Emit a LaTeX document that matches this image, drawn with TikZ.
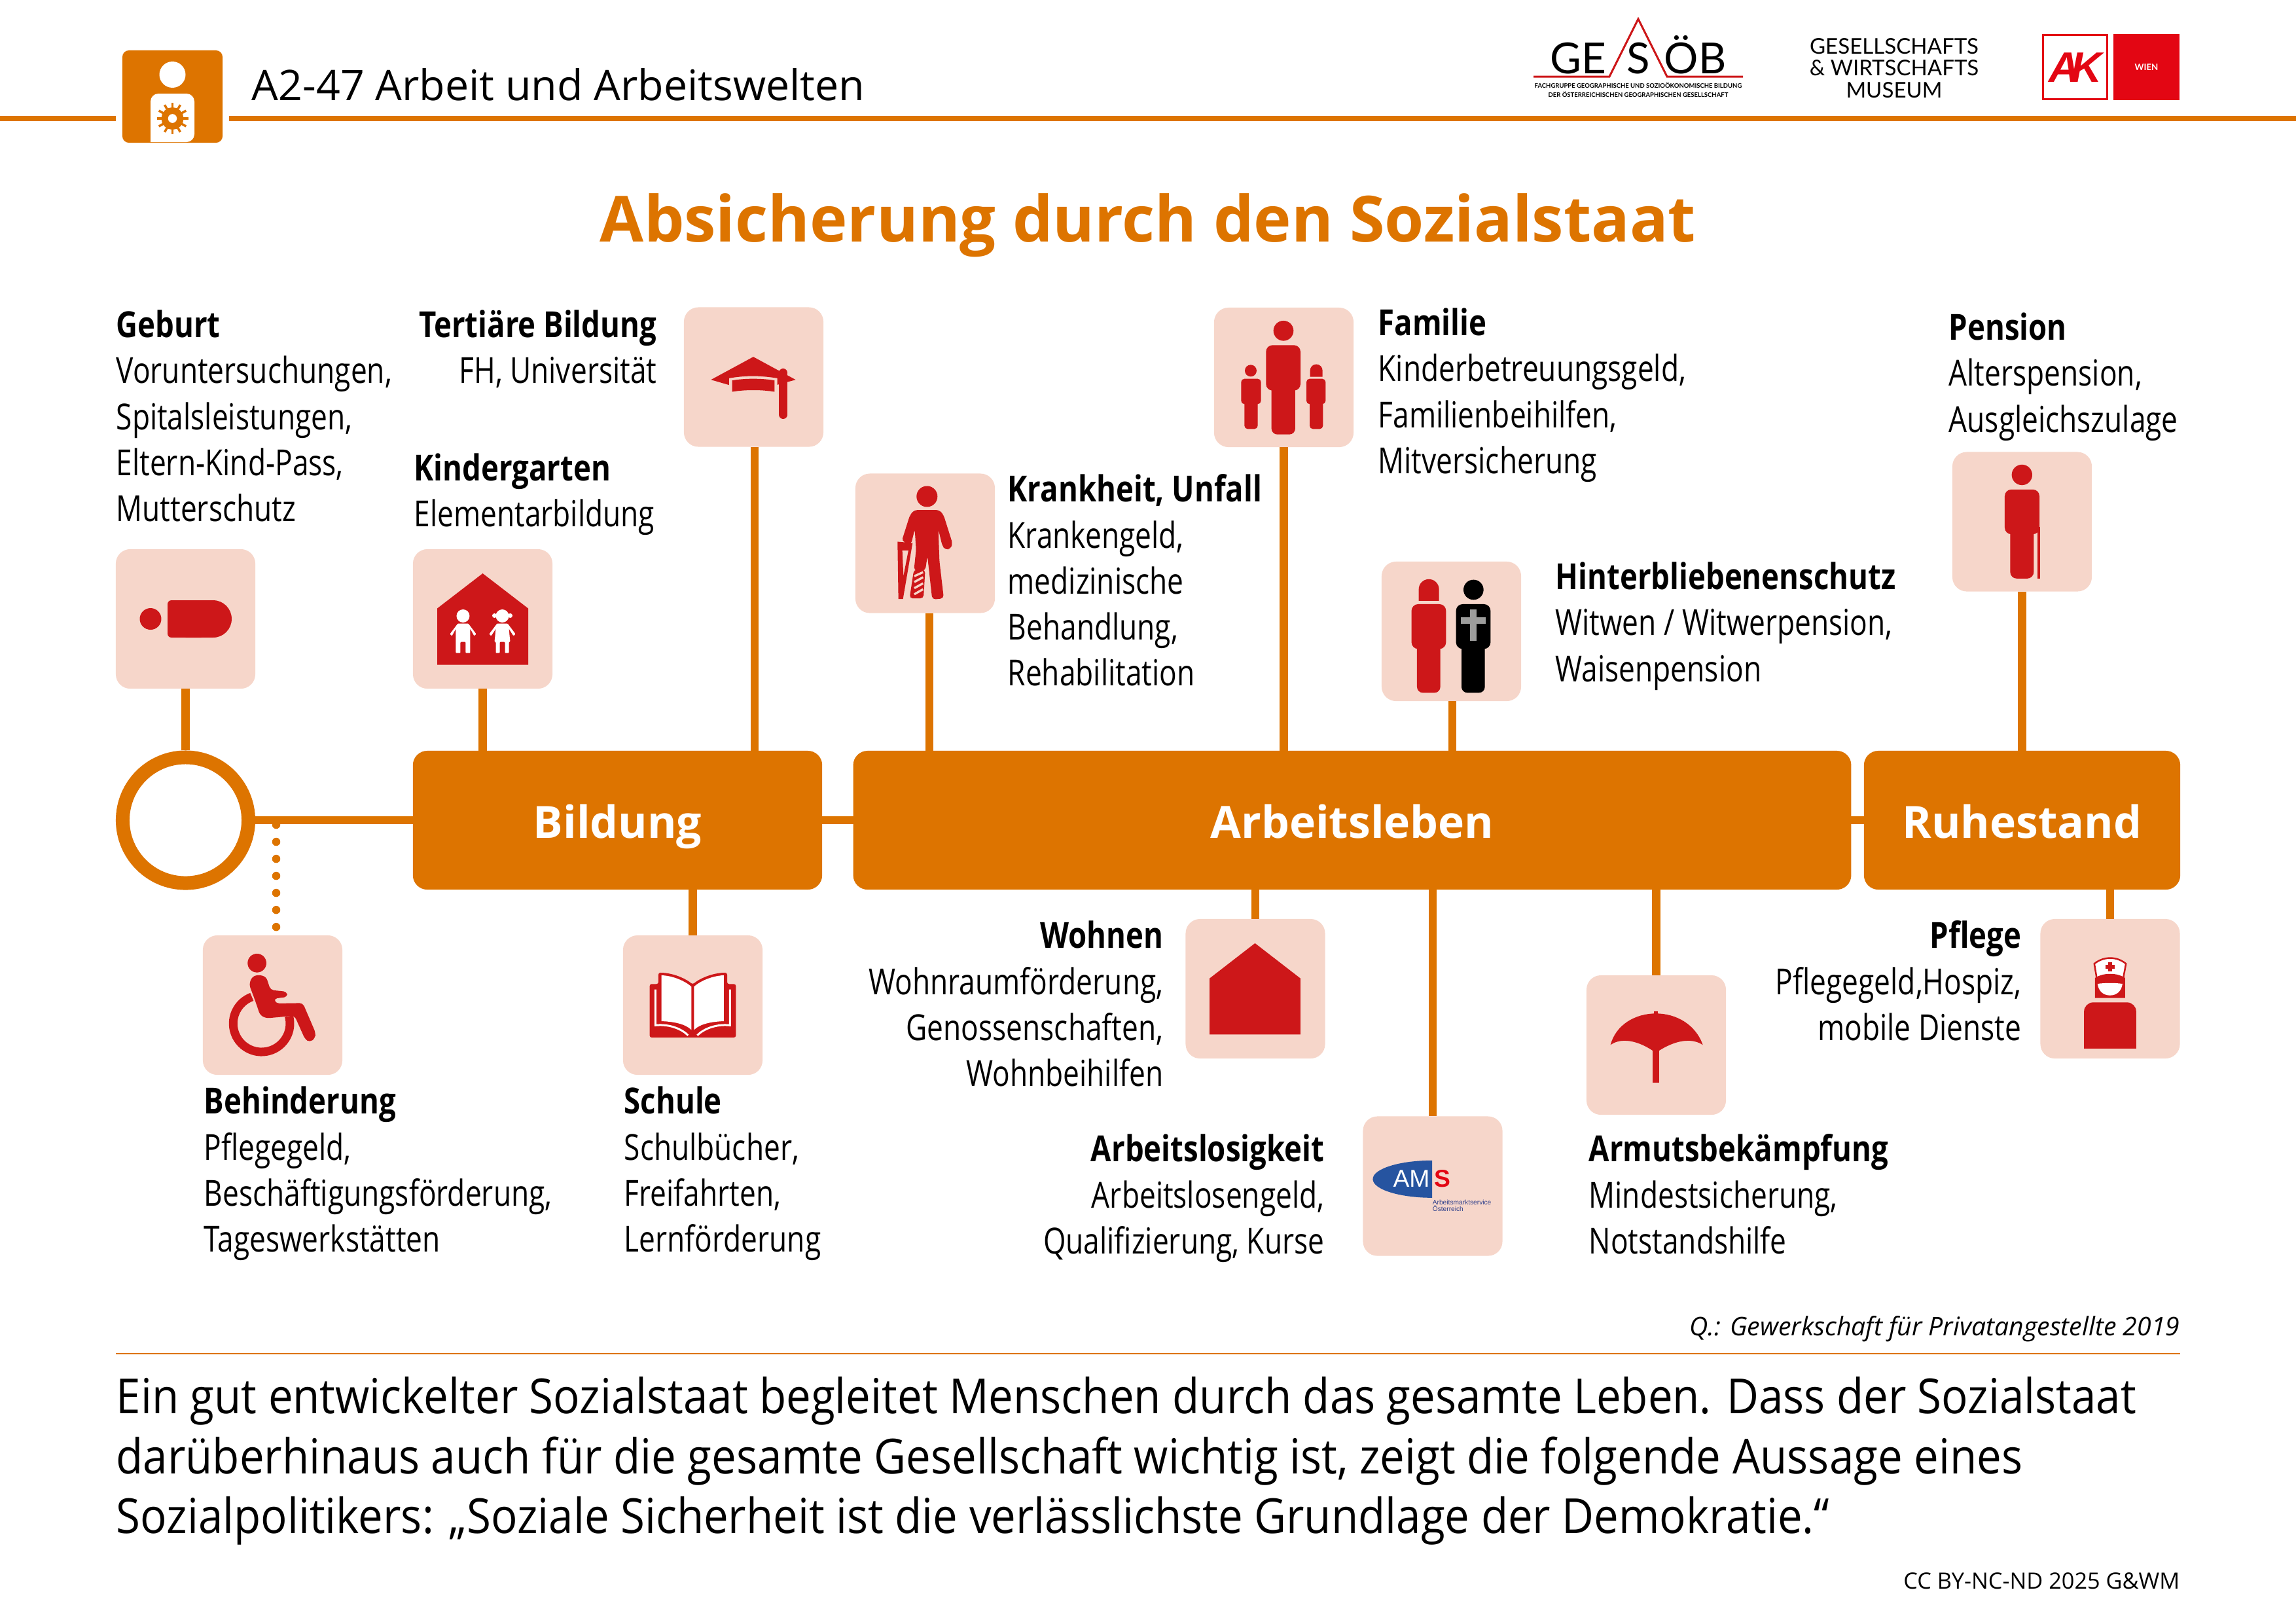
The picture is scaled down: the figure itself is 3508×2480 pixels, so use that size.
\documentclass[tikz,border=0pt]{standalone}
\usepackage{fontspec}
\setmainfont{Open Sans}
\newfontfamily\bodyfont[FakeStretch=0.807, BoldFeatures={FakeStretch=0.83}]{Open Sans}
\newfontfamily\parafont[FakeStretch=0.91]{Open Sans}
\newfontfamily\logofont{Lato}
\newfontfamily\amsfont{Liberation Sans}
\definecolor{gwmorange}{RGB}{221, 116, 0}
\definecolor{boxpink}{RGB}{246, 214, 202}
\definecolor{iconred}{RGB}{205, 23, 25}
\definecolor{akred}{RGB}{227, 6, 19}
\definecolor{amsblue}{RGB}{38, 84, 160}
\definecolor{amstext}{RGB}{50, 66, 140}
\definecolor{crossgrey}{RGB}{157, 157, 156}
\tikzset{
  iconbox/.style={fill=boxpink, rounded corners=2.2mm, minimum size=2.13cm, inner sep=0pt, outer sep=0pt},
  phasebox/.style={fill=gwmorange, rounded corners=2.2mm, minimum height=2.12cm, inner sep=0pt, outer sep=0pt,
    text=white, text height=0.7cm, text depth=0.16cm, font=\fontsize{19.3}{24}\selectfont\bfseries},
  conn/.style={draw=gwmorange, line width=1.25mm},
  dotline/.style={draw=gwmorange, line width=1.25mm, line cap=round, dash pattern=on 0pt off 2.6mm},
  lblleft/.style={anchor=north west, align=left, inner sep=0pt, font=\bodyfont\fontsize{15.6}{19.95}\selectfont},
  lblright/.style={anchor=north east, align=right, inner sep=0pt, font=\bodyfont\fontsize{15.6}{19.95}\selectfont},
  icongrid/.style={x=0.03333mm, y=-0.03333mm},
}
\newcommand{\hd}[1]{\textbf{#1}\strut}
\begin{document}
\begin{tikzpicture}[x=0.01cm, y=-0.01cm]
  \useasboundingbox (0,0) rectangle (3508,2480);

  % Header
  \coordinate (ruleA) at (0,181);
  \coordinate (ruleB) at (177,181);
  \coordinate (ruleC) at (350,181);
  \coordinate (ruleD) at (3508,181);
  \draw[line width=0.87mm, gwmorange] (ruleA) -- (ruleB);
  \draw[line width=0.87mm, gwmorange] (ruleC) -- (ruleD);
  \node[fill=gwmorange, rounded corners=1mm, minimum width=1.53cm, minimum height=1.41cm, inner sep=0pt] (headbox) at (263.5,147.5) {};
  \fill[white] (263.5,114) circle (20);
  \fill[white, rounded corners=1.2mm] (230,217) -- (230,143) -- (297,143) -- (297,217) [sharp corners] -- cycle;
  \foreach \a in {0,30,...,330} {
    \draw[gwmorange, line width=0.35mm] (263.5,181) ++(\a:14) -- ++(\a:10);
  }
  \draw[gwmorange, line width=1mm] (263.5,181) circle (12);
  \node[anchor=base west, inner sep=0pt, font=\fontsize{18.33}{20}\selectfont] (headtitle) at (384,153) {A2-47 Arbeit und Arbeitswelten};

  % Logos
  \draw[iconred, line width=0.3mm] (2343,117) -- (2459,117) -- (2503,29) -- (2547,117) -- (2663,117);
  \node[anchor=base, inner sep=0pt, font=\logofont\fontsize{18.6}{20}\selectfont] (logoge) at (2411,112) {GE};
  \node[anchor=base, inner sep=0pt, font=\logofont\fontsize{18.6}{20}\selectfont] (logos) at (2503,112) {S};
  \node[anchor=base, inner sep=0pt, font=\logofont\fontsize{18.6}{20}\selectfont] (logooeb) at (2590,112) {ÖB};
  \node[anchor=base, inner sep=0pt, font=\logofont\bfseries\fontsize{2.7}{4}\selectfont] (logosub) at (2503,134) {FACHGRUPPE GEOGRAPHISCHE UND SOZIOÖKONOMISCHE BILDUNG};
  \node[anchor=base, inner sep=0pt, font=\logofont\bfseries\fontsize{2.7}{4}\selectfont] (logosubb) at (2503,148) {DER ÖSTERREICHISCHEN GEOGRAPHISCHEN GESELLSCHAFT};
  \node[anchor=base, inner sep=0pt, align=center, font=\logofont\fontsize{9.4}{9.4}\selectfont] (museum) at (2894,149) {GESELLSCHAFTS\\ \& WIRTSCHAFTS\\ MUSEUM};
  \node[draw=akred, line width=0.3mm, minimum width=0.98cm, minimum height=0.98cm, inner sep=0pt] (akbox) at (3170.5,102.5) {};
  \node[fill=akred, minimum width=1.01cm, minimum height=1.01cm, inner sep=0pt, text=white, font=\logofont\bfseries\fontsize{3.8}{4}\selectfont] (wienbox) at (3279.5,102.5) {WIEN};
  \node[inner sep=0pt, text=akred, font=\amsfont\bfseries\itshape\fontsize{18.5}{20}\selectfont] (aktext) at (3170.5,103) {A\kern-0.2em K};

  % Title
  \node[anchor=base, inner sep=0pt, text=gwmorange, font=\fontsize{27.66}{30}\selectfont\bfseries] (title) at (1754,369) {Absicherung durch den Sozialstaat};

  % Phases
  \node[draw=gwmorange, line width=2.1mm, fill=white, circle, minimum size=1.92cm, inner sep=0pt] (lifering) at (283.5,1253) {};
  \node[phasebox, minimum width=6.25cm] (bildung) at (943.5,1253) {Bildung};
  \node[phasebox, minimum width=15.24cm] (arbeit) at (2066,1253) {Arbeitsleben};
  \node[phasebox, minimum width=4.83cm] (ruhe) at (3089.5,1253) {Ruhestand};
  \draw[conn] (lifering) -- (bildung);
  \draw[conn] (bildung) -- (arbeit);
  \draw[conn] (arbeit) -- (ruhe);

  % Icon boxes
  \node[iconbox] (geburtbox) at (283.5,945.5) {};
  \node[iconbox] (kigabox) at (737.5,945.5) {};
  \node[iconbox] (tertbox) at (1151.5,576) {};
  \node[iconbox] (krankbox) at (1413.5,830) {};
  \node[iconbox] (familybox) at (1961.5,576.5) {};
  \node[iconbox] (hintbox) at (2217.5,964.5) {};
  \node[iconbox] (pensionbox) at (3089.5,797) {};
  \node[iconbox] (behindbox) at (416.5,1535.5) {};
  \node[iconbox] (schulebox) at (1058.5,1535.5) {};
  \node[iconbox] (wohnbox) at (1918,1510.5) {};
  \node[iconbox] (amsbox) at (2189,1812) {};
  \node[iconbox] (armutbox) at (2530.5,1596.5) {};
  \node[iconbox] (pflegebox) at (3224,1510.5) {};

  % Connectors
  \draw[conn] (geburtbox) -- (lifering);
  \draw[conn] (kigabox.south) -- (kigabox.south |- bildung.north);
  \draw[conn] ([xshift=0.15mm]tertbox.south) -- ([xshift=0.15mm]tertbox.south |- bildung.north);
  \draw[conn] ([xshift=0.65mm]krankbox.south) -- ([xshift=0.65mm]krankbox.south |- arbeit.north);
  \draw[conn] (familybox.south) -- (familybox.south |- arbeit.north);
  \draw[conn] ([xshift=0.15mm]hintbox.south) -- ([xshift=0.15mm]hintbox.south |- arbeit.north);
  \draw[conn] (pensionbox.south) -- (pensionbox.south |- ruhe.north);
  \draw[conn] (schulebox.north) -- (schulebox.north |- bildung.south);
  \draw[conn] (wohnbox.north) -- (wohnbox.north |- arbeit.south);
  \draw[conn] (amsbox.north) -- (amsbox.north |- arbeit.south);
  \draw[conn] (armutbox.north) -- (armutbox.north |- arbeit.south);
  \draw[conn] (pflegebox.north) -- (pflegebox.north |- ruhe.south);
  \coordinate (dotstart) at (422,1260);
  \draw[dotline] (dotstart) -- (dotstart |- behindbox.north);

  % Geburt
  \begin{scope}[shift={(geburtbox)}]
    \fill[iconred] (-53.5,0) circle (16.5);
    \fill[iconred, rounded corners=0.6mm] (-27.5,-28.5) rectangle (30,28.5);
    \fill[iconred] (0,-28.5) -- (42,-28.5) arc[start angle=-90, end angle=90, radius=28.5] -- (0,28.5) -- cycle;
  \end{scope}

  % Kindergarten
  \begin{scope}[shift={(kigabox)}]
    \fill[iconred] (0,-69.5) -- (69.5,-16) -- (69.5,70) -- (-69.5,70) -- (-69.5,-16) -- cycle;
    \begin{scope}[xshift=-0.3cm]
      \fill[white] (0,-4.5) circle (10);
      \fill[white, rounded corners=0.1mm] (-8,7) -- (8,7) -- (20,23) -- (17,26) -- (11,15) -- (11,52) -- (4,52) -- (4,35) -- (-4,35) -- (-4,52) -- (-11,52) -- (-11,15) -- (-17,26) -- (-20,23) -- cycle;
    \end{scope}
    \begin{scope}[xshift=0.3cm]
      \fill[white] (0,-4.5) circle (10);
      \fill[white] (-12,-5) circle (3.5);
      \fill[white] (12,-5) circle (3.5);
      \fill[white, rounded corners=0.1mm] (-8,7) -- (8,7) -- (20,23) -- (17,26) -- (10,15) -- (12,35) -- (10,35) -- (10,52) -- (4,52) -- (4,35) -- (-4,35) -- (-4,52) -- (-10,52) -- (-10,35) -- (-12,35) -- (-10,15) -- (-17,26) -- (-20,23) -- cycle;
    \end{scope}
  \end{scope}

  % Tertiaere Bildung
  \begin{scope}[shift={(tertbox.north west)}, icongrid]
    \fill[iconred] (124,332) -- (318,227) -- (512,332) -- (428,355) -- (428,325) .. controls (350,312) and (280,312) .. (207,325) -- (207,356) -- cycle;
    \fill[iconred] (221,335) .. controls (280,325) and (356,325) .. (415,335) -- (415,387) .. controls (356,377) and (280,377) .. (221,387) -- cycle;
    \draw[iconred, line width=1.3mm, line cap=round] (455,300) -- (455,492);
  \end{scope}

  % Krankheit
  \begin{scope}[shift={(krankbox.north west)}, icongrid]
    \fill[iconred] (328,105) circle (48);
    \fill[iconred, rounded corners=0.5mm] (270,167) -- (385,167) -- (404,190) -- (445,320) -- (437,345) -- (412,350) -- (398,330) -- (380,255) -- (385,400) -- (405,572) -- (352,577) -- (330,378) -- (320,445) -- (268,445) -- (278,350) -- (272,255) -- (255,325) -- (212,310) -- (250,190) -- cycle;
    \fill[iconred, rounded corners=0.5mm] (268,440) -- (320,440) -- (312,572) -- (248,572) -- cycle;
    \foreach \ya/\yb in {470/452, 497/475, 525/503, 553/530} {
      \draw[boxpink, line width=0.33mm] (270,\ya) -- (310,\yb);
    }
    \fill[iconred, even odd rule] (193,312) -- (262,318) -- (218,575) -- (197,575) -- cycle (215,352) -- (243,352) -- (220,470) -- cycle;
  \end{scope}

  % Familie
  \begin{scope}[shift={(familybox.north west)}, icongrid]
    \fill[iconred] (318,106) circle (46);
    \fill[iconred, rounded corners=1mm] (238,172) rectangle (396,380);
    \fill[iconred, rounded corners=0.9mm] (263,340) rectangle (372,581);
    \fill[iconred] (168,289) circle (27);
    \fill[iconred, rounded corners=0.5mm] (124,326) rectangle (215,442);
    \fill[iconred, rounded corners=0.5mm] (139,400) rectangle (200,556);
    \fill[iconred] (440,317) -- (440,288) arc[start angle=180, end angle=360, radius=28.5] -- (497,317) -- cycle;
    \fill[iconred, rounded corners=0.5mm] (423,326) rectangle (511,442);
    \fill[iconred, rounded corners=0.5mm] (438,400) rectangle (499,556);
  \end{scope}

  % Hinterbliebene
  \begin{scope}[shift={(hintbox.north west)}, icongrid]
    \fill[iconred] (170,180) -- (170,127) arc[start angle=180, end angle=360, radius=46.5] -- (263,180) -- cycle;
    \fill[iconred, rounded corners=1mm] (137,195) rectangle (295,400);
    \fill[iconred, rounded corners=0.9mm] (162,360) rectangle (269,601);
    \fill[black] (421,129) circle (46);
    \fill[black, rounded corners=1mm] (341,195) rectangle (499,400);
    \fill[black, rounded corners=0.9mm] (366,360) rectangle (473,601);
    \fill[crossgrey] (406,220) rectangle (436,363);
    \fill[crossgrey] (364,255) rectangle (478,285);
  \end{scope}

  % Pension
  \begin{scope}[shift={(pensionbox.north west)}, icongrid]
    \fill[iconred] (319,105) circle (47);
    \fill[iconred, rounded corners=1mm] (240,172) rectangle (399,377);
    \fill[iconred, rounded corners=1mm] (265,340) rectangle (373,580);
    \fill[iconred] (390,342) rectangle (403,580);
  \end{scope}

  % Behinderung
  \begin{scope}[shift={(behindbox.north west)}, icongrid]
    \fill[iconred] (248,127) circle (43);
    \draw[iconred, line width=1.3mm] (394.6,370.4) arc[start angle=-15, end angle=250, radius=130];
    \fill[iconred, rounded corners=0.5mm] (212,225) -- (225,190) -- (255,180) -- (290,190) -- (310,250) -- (385,258) -- (388,282) -- (325,290) -- (335,312) -- (458,310) -- (516,445) -- (515,470) -- (490,490) -- (468,475) -- (420,368) -- (290,380) -- (262,365) -- (240,300) -- cycle;
  \end{scope}

  % Schule
  \begin{scope}[shift={(schulebox.north west)}, icongrid]
    \fill[iconred, rounded corners=0.3mm] (122,223) -- (162,223) -- (162,171) .. controls (230,171) and (290,200) .. (319,225) .. controls (348,200) and (408,171) .. (477,171) -- (477,223) -- (517,223) -- (517,468) -- (122,468) -- cycle;
    \fill[white] (176,183) .. controls (230,185) and (285,210) .. (313,235) -- (313,433) .. controls (285,405) and (230,395) .. (176,393) -- cycle;
    \fill[white] (462,183) .. controls (408,185) and (353,210) .. (325,235) -- (325,433) .. controls (353,405) and (408,395) .. (462,393) -- cycle;
    \draw[white, line width=0.3mm] (148,248) -- (148,412) .. controls (215,405) and (270,430) .. (298,458);
    \draw[white, line width=0.3mm] (490,248) -- (490,412) .. controls (423,405) and (368,430) .. (340,458);
  \end{scope}

  % Wohnen
  \begin{scope}[shift={(wohnbox.north west)}, icongrid]
    \fill[iconred] (318,111) -- (526,272) -- (526,529) -- (110,529) -- (110,272) -- cycle;
  \end{scope}

  % AMS
  \begin{scope}[shift={(amsbox.north west)}, icongrid]
    \fill[amsblue] (317,202) arc[start angle=-90, end angle=-270, x radius=272, y radius=85.5] -- cycle;
    \node[inner sep=0pt, text=white, font=\amsfont\fontsize{10.6}{11}\selectfont] (amstxt) at (222,285) {AM};
    \node[inner sep=0pt, text=akred, font=\amsfont\bfseries\fontsize{10.6}{11}\selectfont] (amss) at (365,285) {S};
    \node[anchor=base west, inner sep=0pt, text=amstext, font=\amsfont\fontsize{2.9}{3}\selectfont] (amssub) at (317,404) {Arbeitsmarktservice};
    \node[anchor=base west, inner sep=0pt, text=amstext, font=\amsfont\fontsize{2.9}{3}\selectfont] (amssubb) at (317,436) {Österreich};
  \end{scope}

  % Armutsbekaempfung
  \begin{scope}[shift={(armutbox.north west)}, icongrid]
    \fill[iconred] (110,319) .. controls (135,225) and (225,175) .. (318,175) .. controls (411,175) and (500,225) .. (533,319) .. controls (490,290) and (420,290) .. (333,345) -- (303,345) .. controls (220,290) and (150,290) .. (110,319) -- cycle;
    \fill[iconred] (304,330) rectangle (333,491);
    \fill[iconred] (308,165) rectangle (328,180);
  \end{scope}

  % Pflege
  \begin{scope}[shift={(pflegebox.north west)}, icongrid]
    \draw[iconred, fill=white, line width=0.25mm] (247,205) .. controls (290,170) and (350,170) .. (392,205) -- (380,270) -- (258,270) -- cycle;
    \fill[iconred] (311,197) rectangle (327,241);
    \fill[iconred] (297,211) rectangle (341,227);
    \fill[iconred] (250,362) -- (250,270) .. controls (290,245) and (350,245) .. (388,270) -- (388,362) -- cycle;
    \fill[white] (262,297) .. controls (300,292) and (340,292) .. (376,297) .. controls (372,330) and (350,350) .. (319,350) .. controls (288,350) and (266,330) .. (262,297) -- cycle;
    \fill[iconred, rounded corners=1.4mm] (200,600) -- (200,382) -- (439,382) -- (439,600);
    \fill[boxpink] (195,593) rectangle (445,605);
  \end{scope}

  % Labels
  \node[lblleft] (geburt) at (177,466) {\hd{Geburt}\\Voruntersuchungen,\\Spitalsleistungen,\\Eltern-Kind-Pass,\\Mutterschutz};
  \node[lblright] (tertiaer) at (1004,466) {\hd{Tertiäre Bildung}\\FH, Universität};
  \node[lblleft] (kiga) at (632,685) {\hd{Kindergarten}\\Elementarbildung};
  \node[lblleft] (krank) at (1539,717) {\hd{Krankheit, Unfall}\\Krankengeld,\\medizinische\\Behandlung,\\Rehabilitation};
  \node[lblleft] (familie) at (2105,463) {\hd{Familie}\\Kinderbetreuungsgeld,\\Familienbeihilfen,\\Mitversicherung};
  \node[lblleft] (hinter) at (2376,851) {\hd{Hinterbliebenenschutz}\\Witwen / Witwerpension,\\Waisenpension};
  \node[lblleft] (pension) at (2977,470) {\hd{Pension}\\Alterspension,\\Ausgleichszulage};
  \node[lblleft] (behind) at (311,1652) {\hd{Behinderung}\\Pflegegeld,\\Beschäftigungsförderung,\\Tageswerkstätten};
  \node[lblleft] (schule) at (953,1652) {\hd{Schule}\\Schulbücher,\\Freifahrten,\\Lernförderung};
  \node[lblright] (wohnen) at (1778,1399) {\hd{Wohnen}\\Wohnraumförderung,\\Genossenschaften,\\Wohnbeihilfen};
  \node[lblright] (arbeitslos) at (2024,1725) {\hd{Arbeitslosigkeit}\\Arbeitslosengeld,\\Qualifizierung, Kurse};
  \node[lblleft] (armut) at (2427,1725) {\hd{Armutsbekämpfung}\\Mindestsicherung,\\Notstandshilfe};
  \node[lblright] (pflege) at (3089,1399) {\hd{Pflege}\\Pflegegeld,Hospiz,\\mobile Dienste};

  % Footer
  \node[anchor=base east, inner sep=0pt, font=\itshape\fontsize{11.15}{14}\selectfont] (source) at (3331,2040) {Q.: Gewerkschaft für Privatangestellte 2019};
  \coordinate (footA) at (177,2068);
  \coordinate (footB) at (3331,2068);
  \draw[gwmorange, line width=0.25mm] (footA) -- (footB);
  \node[anchor=north west, align=left, inner sep=0pt, font=\parafont\fontsize{21}{26}\selectfont] (para) at (177,2095) {\strut Ein gut entwickelter Sozialstaat begleitet Menschen durch das gesamte Leben. Dass der Sozialstaat\\darüberhinaus auch für die gesamte Gesellschaft wichtig ist, zeigt die folgende Aussage eines\\Sozialpolitikers: „Soziale Sicherheit ist die verlässlichste Grundlage der Demokratie.“};
  \node[anchor=base east, inner sep=0pt, font=\fontsize{9.75}{12}\selectfont] (license) at (3331,2427) {CC BY-NC-ND 2025 G\&WM};
\end{tikzpicture}
\end{document}
